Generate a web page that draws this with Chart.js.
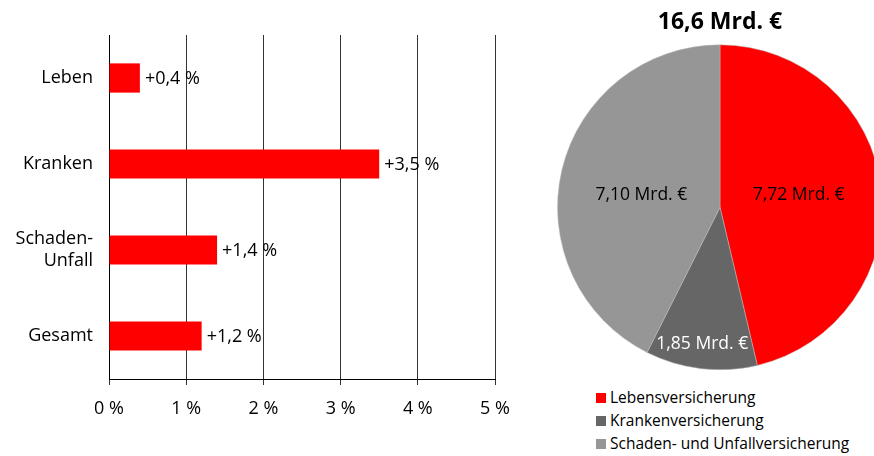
<!DOCTYPE html>
<html lang="de">
<head>
<meta charset="utf-8">
<script src="https://cdn.jsdelivr.net/npm/chart.js@4"></script>
<style>
  html, body { margin: 0; padding: 0; background: #fff; overflow: hidden; width: 874px; height: 456px; }
  #wrapBar { position: absolute; left: 0; top: 0; width: 530px; height: 456px; }
  #wrapPie { position: absolute; left: 557px; top: 0; width: 326px; height: 370px; }
  #legende { position: absolute; left: 596px; top: 386px; font-family: "Open Sans", sans-serif; font-size: 15.5px; color: #000; }
  .leg-item { height: 23px; line-height: 23px; display: flex; align-items: center; }
  .leg-box { width: 10px; height: 10px; margin-right: 4px; }
</style>
</head>
<body>
<div id="wrapBar"><canvas id="chartBalken"></canvas></div>
<div id="wrapPie"><canvas id="chartTorte"></canvas></div>
<div id="legende"></div>

<script>
// ===== DATEN =====
const SPARTEN = ['Leben', 'Kranken', ['Schaden-', 'Unfall'], 'Gesamt'];
const WACHSTUM = [0.4, 3.5, 1.4, 1.2];          // Veränderung in %
const ACHSE_TICKS = [0, 1, 2, 3, 4, 5];

const TORTE_TITEL = '16,6 Mrd. €';
const TORTE_LABELS = ['Lebensversicherung', 'Krankenversicherung', 'Schaden- und Unfallversicherung'];
const TORTE_WERTE = [7.72, 1.85, 7.10];          // Mrd. €

// ===== STIL =====
const ROT = '#ff0000';
const TORTE_FARBEN = [ROT, '#666666', '#969696'];
const TORTE_TEXTFARBEN = ['#000', '#fff', '#000'];
const TORTE_LABEL_RADIUS = [0.49, 0.85, 0.49];
const TORTE_LABEL_WINKEL = [-2, 0.7, -4.6];      // Korrektur in Grad

Chart.defaults.font.family = '"Open Sans", sans-serif';
Chart.defaults.color = '#000';

function fmtKomma(v, n) {
  return v.toFixed(n).replace('.', ',');
}

// ===== BALKEN =====
const balkenLabels = {
  id: 'balkenLabels',
  afterDatasetsDraw(chart) {
    const ctx = chart.ctx;
    const meta = chart.getDatasetMeta(0);
    ctx.save();
    ctx.font = '18px "Open Sans", sans-serif';
    ctx.fillStyle = '#000';
    ctx.textAlign = 'left';
    ctx.textBaseline = 'middle';
    meta.data.forEach((bar, i) => {
      ctx.fillText('+' + fmtKomma(WACHSTUM[i], 1) + ' %', bar.x + 5, bar.y + 1);
    });
    ctx.restore();
  }
};

new Chart(document.getElementById('chartBalken'), {
  type: 'bar',
  data: {
    labels: SPARTEN,
    datasets: [{
      data: WACHSTUM,
      backgroundColor: ROT,
      borderWidth: 0,
      barPercentage: 0.34,
      categoryPercentage: 1
    }]
  },
  options: {
    indexAxis: 'y',
    responsive: true,
    maintainAspectRatio: false,
    animation: false,
    layout: { padding: { top: 35, right: 35, left: 0, bottom: 0 } },
    plugins: { legend: { display: false }, tooltip: { enabled: false } },
    scales: {
      x: {
        min: ACHSE_TICKS[0],
        max: ACHSE_TICKS[ACHSE_TICKS.length - 1],
        afterBuildTicks: s => { s.ticks = ACHSE_TICKS.map(v => ({ value: v })); },
        ticks: { callback: v => v + ' %', font: { size: 18 }, padding: 13, color: '#000' },
        grid: { color: '#333333', lineWidth: 1, tickLength: 6 },
        border: { color: '#000', width: 1 },
        afterFit: s => { s.height = 77; }
      },
      y: {
        grid: { display: false },
        ticks: { font: { size: 18 }, padding: 8, color: '#000' },
        border: { color: '#000', width: 1 },
        afterFit: s => { s.width = 109; }
      }
    }
  },
  plugins: [balkenLabels]
});

// ===== TORTE =====
const torteLabels = {
  id: 'torteLabels',
  afterDatasetsDraw(chart) {
    const ctx = chart.ctx;
    const meta = chart.getDatasetMeta(0);
    ctx.save();
    ctx.font = '17.5px "Open Sans", sans-serif';
    ctx.textAlign = 'center';
    ctx.textBaseline = 'middle';
    meta.data.forEach((arc, i) => {
      const mitte = (arc.startAngle + arc.endAngle) / 2 + TORTE_LABEL_WINKEL[i] * Math.PI / 180;
      const r = arc.outerRadius * TORTE_LABEL_RADIUS[i];
      ctx.fillStyle = TORTE_TEXTFARBEN[i];
      ctx.fillText(fmtKomma(TORTE_WERTE[i], 2) + ' Mrd. €',
        arc.x + Math.cos(mitte) * r, arc.y + Math.sin(mitte) * r);
    });
    ctx.restore();
  }
};

new Chart(document.getElementById('chartTorte'), {
  type: 'pie',
  data: {
    labels: TORTE_LABELS,
    datasets: [{
      data: TORTE_WERTE,
      backgroundColor: TORTE_FARBEN,
      borderColor: '#bbbbbb',
      borderWidth: 0.5
    }]
  },
  options: {
    responsive: true,
    maintainAspectRatio: false,
    animation: false,
    layout: { padding: 0 },
    plugins: {
      legend: { display: false },
      tooltip: { enabled: false },
      title: {
        display: true,
        text: TORTE_TITEL,
        font: { size: 23, weight: 'bold' },
        color: '#000',
        padding: { top: 9, bottom: 8 }
      }
    }
  },
  plugins: [torteLabels]
});

// ===== LEGENDE =====
document.getElementById('legende').innerHTML = TORTE_LABELS.map((l, i) => `
  <div class="leg-item"><span class="leg-box" style="background:${TORTE_FARBEN[i]}"></span>${l}</div>
`).join('');
</script>
</body>
</html>
